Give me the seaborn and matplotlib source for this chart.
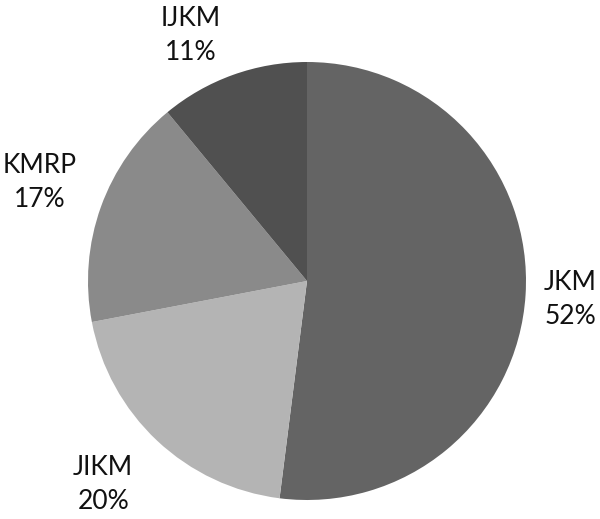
import matplotlib
matplotlib.use("Agg")
import matplotlib.pyplot as plt
import numpy as np
import seaborn as sns

# Share of each combination
categories = ["JKM", "JIKM", "KMRP", "IJKM"]
shares = [52, 20, 17, 11]
colors = ["#646464", "#b4b4b4", "#8a8a8a", "#505050"]

sns.set_style("white")
plt.rcParams["font.family"] = ["Lato", "DejaVu Sans"]

W, H = 600, 519
fig = plt.figure(figsize=(W / 100, H / 100), dpi=100)
ax = fig.add_axes([0, 0, 1, 1])

cx, cy, r = 307, H - 281, 219
wedges, _ = ax.pie(
    shares,
    colors=colors,
    startangle=90,
    counterclock=False,
    center=(cx, cy),
    radius=r,
    frame=True,
    wedgeprops=dict(linewidth=0),
)
ax.set_xlim(0, W)
ax.set_ylim(0, H)
ax.set_aspect("equal")
ax.axis("off")

# label placement: distance (in radii) and angular nudge (degrees) per slice
label_dist = [1.204, 1.314, 1.299, 1.238]
label_nudge = [-0.5, -1.9, -0.4, 5.5]
for w, cat, s, d, nd in zip(wedges, categories, shares, label_dist, label_nudge):
    ang = np.deg2rad((w.theta1 + w.theta2) / 2 + nd)
    x = cx + r * d * np.cos(ang)
    y = cy + r * d * np.sin(ang)
    ax.text(x, y, f"{cat}\n{s}%", ha="center", va="center",
            multialignment="center", fontsize=19, color="#111111",
            linespacing=1.45)

fig.savefig("out.png", dpi=100, facecolor="white")
